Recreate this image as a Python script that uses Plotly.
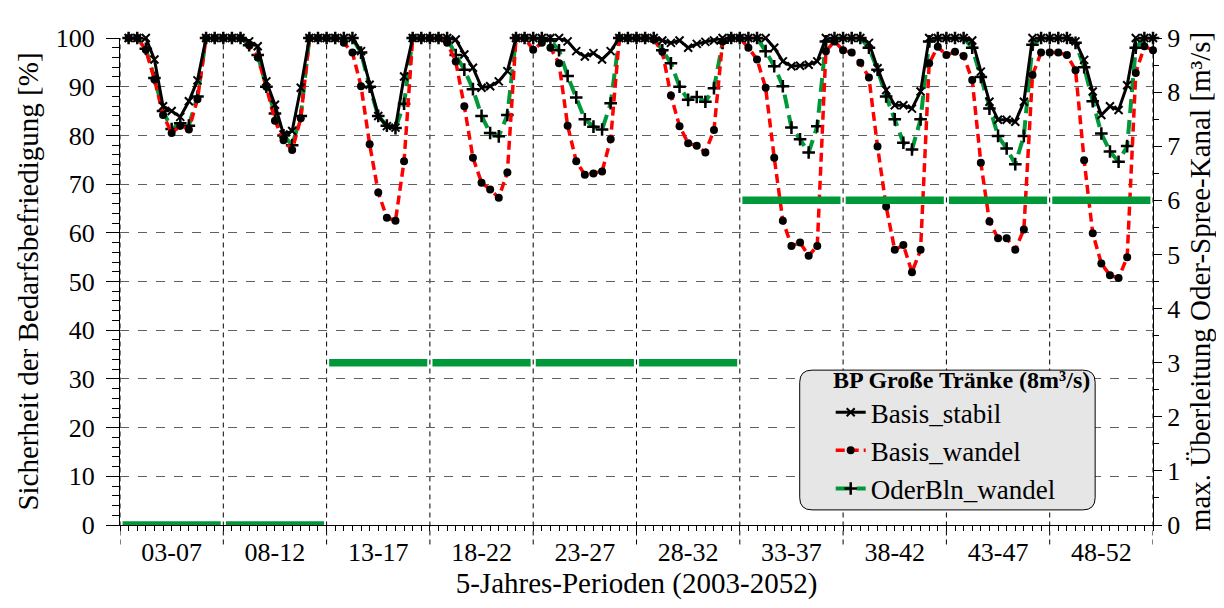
import plotly.graph_objects as go

perioden = ["03-07", "08-12", "13-17", "18-22", "23-27",
            "28-32", "33-37", "38-42", "43-47", "48-52"]
monate = 12

# Sicherheit der Bedarfsbefriedigung [%], 12 Monatswerte je Periode
basis_stabil = [
    [100, 100, 100, 95.6, 86, 85, 83.8, 87, 91.3, 100, 100, 100],
    [100, 100, 99.3, 98.3, 91.1, 86.3, 80.2, 80.9, 89.8, 100, 100, 100],
    [100, 100, 100, 97.3, 90.4, 84, 81.9, 81.6, 92.1, 100, 100, 100],
    [100, 100, 99.7, 96.6, 93.9, 89.8, 90.1, 91.1, 93.2, 100, 100, 100],
    [100, 100, 100, 99.3, 97.3, 96.2, 96.9, 95.6, 97.3, 100, 100, 100],
    [100, 100, 99.5, 99, 99.5, 98, 98.8, 99.2, 99.5, 100, 100, 100],
    [100, 100, 100, 98, 95.2, 94.2, 94.3, 94.5, 95.2, 100, 100, 100],
    [100, 100, 99, 93.8, 89.3, 86.2, 86.2, 85.5, 89, 100, 100, 100],
    [100, 100, 99.5, 93.1, 86.9, 83.2, 83.2, 82.8, 86.9, 100, 100, 100],
    [100, 100, 99.3, 95.5, 89, 84.2, 86, 85.2, 90.3, 100, 100, 100],
]
basis_wandel = [
    [100, 100, 97.6, 91.5, 84.2, 80.5, 82, 81.2, 87.4, 100, 100, 100],
    [100, 100, 98.5, 96, 90, 83, 79, 77, 83.5, 100, 100, 100],
    [100, 99, 97, 90.1, 78.2, 68.3, 63.1, 62.5, 74.7, 100, 100, 100],
    [100, 99, 95.2, 86, 75.4, 70.3, 68.9, 67.2, 72.4, 100, 100, 97.6],
    [99, 98, 94.8, 82, 74.7, 71.9, 72.2, 72.6, 79.2, 100, 100, 100],
    [100, 99.7, 97.2, 88.2, 81.9, 78.4, 77.9, 76.5, 81.1, 99.3, 100, 100],
    [98, 95.6, 89.8, 75.4, 62.5, 57.3, 58, 55.3, 57.3, 97.3, 99.3, 97.5],
    [97, 94.9, 91.9, 77.7, 65.4, 56.5, 57.5, 51.9, 56.5, 94.8, 98.2, 96.5],
    [97.2, 96.3, 91.4, 74.4, 62.3, 58.9, 58.9, 56.5, 60.7, 92.4, 97, 97],
    [97, 96.5, 93.4, 74.9, 59.9, 53.7, 51.3, 50.7, 55, 92.8, 98.3, 97.5],
]
oderbln_wandel = [
    [100, 100, 97.8, 91.8, 85, 81.3, 82.5, 82, 88, 100, 100, 100],
    [100, 100, 98.5, 96.5, 90, 84.5, 80, 78, 84, 100, 100, 100],
    [100, 100, 100, 97, 90, 84, 82, 81.5, 86.5, 100, 100, 100],
    [100, 100, 96.5, 93.5, 89.5, 84, 80.5, 79.8, 84.2, 100, 100, 100],
    [100, 99.5, 97.5, 92.2, 87.8, 83.3, 81.8, 81.2, 86.6, 100, 100, 100],
    [100, 100, 97.5, 94.8, 90, 87.3, 87.9, 86.9, 89.7, 99, 100, 100],
    [100, 100, 97.3, 94.2, 90.1, 81.6, 79.2, 76.5, 81.9, 99.3, 100, 100],
    [100, 100, 98, 93.5, 88, 83.3, 78.5, 77.1, 83.3, 99.3, 100, 100],
    [100, 100, 98, 92, 85.5, 79.9, 77.3, 74.1, 79.9, 98.6, 100, 100],
    [100, 100, 99, 94, 87, 80.4, 76.7, 74.6, 77.8, 98, 100, 100],
]
# max. Überleitung Oder-Spree-Kanal [m3/s] je Periode
ueberleitung = [0, 0, 3, 3, 3, 3, 6, 6, 6, 6]

schrift = "Liberation Serif, Times New Roman, serif"


def flach(werte):
    return [v for periode in werte for v in periode]


x_monat = [p * monate + m + 1 for p in range(len(perioden)) for m in range(monate)]

# Balken der Überleitung, je Periode ein Stück
bar_x, bar_y = [], []
for p, q in enumerate(ueberleitung):
    bar_x += [p * monate + 0.3, p * monate + 11.7, None]
    bar_y += [q, q, None]

gruen = "#00993a"
fig = go.Figure()

fig.add_trace(go.Scatter(
    x=bar_x, y=bar_y, yaxis="y2", mode="lines",
    line=dict(color=gruen, width=7.5), showlegend=False,
    cliponaxis=False, hoverinfo="skip",
))
fig.add_trace(go.Scatter(
    x=x_monat, y=flach(oderbln_wandel), name="OderBln_wandel",
    mode="lines+markers", legendrank=3, cliponaxis=False,
    line=dict(color=gruen, width=4, dash="14px,7px"),
    marker=dict(symbol="cross-thin", size=9, color="black",
                line=dict(width=2.5, color="black")),
))
fig.add_trace(go.Scatter(
    x=x_monat, y=flach(basis_wandel), name="Basis_wandel",
    mode="lines+markers", legendrank=2, cliponaxis=False,
    line=dict(color="red", width=3.5, dash="9px,5px"),
    marker=dict(symbol="circle", size=8, color="black"),
))
fig.add_trace(go.Scatter(
    x=x_monat, y=flach(basis_stabil), name="Basis_stabil",
    mode="lines+markers", legendrank=1, cliponaxis=False,
    line=dict(color="black", width=3),
    marker=dict(symbol="x-thin", size=8, color="black",
                line=dict(width=2, color="black")),
))

# gestrichelte Periodengrenzen, unten über die Achse hinaus
shapes = []
for p in range(len(perioden) + 1):
    shapes.append(dict(
        type="line", xref="x", yref="paper",
        x0=p * monate, x1=p * monate, y0=-0.04, y1=1,
        line=dict(color="black", width=1, dash="5px,4px"), layer="below",
    ))

# Legendenhintergrund mit runden Ecken
x0, x1, y0, y1 = 0.658, 0.944, 0.031, 0.318
rx, ry = 0.012, 0.025
pfad = (f"M {x0+rx},{y0} L {x1-rx},{y0} Q {x1},{y0} {x1},{y0+ry} "
        f"L {x1},{y1-ry} Q {x1},{y1} {x1-rx},{y1} L {x0+rx},{y1} "
        f"Q {x0},{y1} {x0},{y1-ry} L {x0},{y0+ry} Q {x0},{y0} {x0+rx},{y0} Z")
shapes.append(dict(type="path", xref="paper", yref="paper", path=pfad,
                   fillcolor="#e6e6e6", line=dict(color="black", width=1),
                   layer="above"))

fig.update_layout(
    width=1224, height=608,
    # die Seite hat 8px Rand, daher links/oben 8px weniger
    margin=dict(l=112, r=79, t=30, b=91),
    plot_bgcolor="white", paper_bgcolor="white",
    font=dict(family=schrift, size=24, color="black"),
    shapes=shapes,
    xaxis=dict(
        range=[0, len(perioden) * monate],
        tickmode="array",
        tickvals=[p * monate + 6 for p in range(len(perioden))],
        ticktext=perioden, ticks="", ticklabelstandoff=4,
        tickfont=dict(family=schrift, size=26),
        showgrid=False, zeroline=False,
        showline=True, linecolor="black", linewidth=1,
        minor=dict(tickmode="linear", tick0=0, dtick=1, ticks="outside",
                   ticklen=5, tickcolor="black", showgrid=False),
        title=dict(text="5-Jahres-Perioden (2003-2052)", standoff=2,
                   font=dict(family=schrift, size=29)),
    ),
    yaxis=dict(
        range=[0, 100], dtick=10, ticks="outside", ticklen=13,
        tickcolor="black", showline=True, linecolor="black", linewidth=1,
        tickfont=dict(family=schrift, size=26), ticklabelstandoff=6,
        showgrid=True, gridcolor="#606060", griddash="dash", gridwidth=1,
        zeroline=False,
        minor=dict(dtick=2, ticks="outside", ticklen=7, tickcolor="black",
                   showgrid=False),
        title=dict(text="Sicherheit der Bedarfsbefriedigung [%]", standoff=8,
                   font=dict(family=schrift, size=29)),
    ),
    yaxis2=dict(
        overlaying="y", side="right", range=[0, 9], dtick=1,
        ticks="outside", ticklen=8, tickcolor="black",
        tickfont=dict(family=schrift, size=26),
        showline=True, linecolor="black", linewidth=1,
        showgrid=False, zeroline=False,
        minor=dict(dtick=0.5, ticks="outside", ticklen=5, tickcolor="black"),
        title=dict(text="max. Überleitung Oder-Spree-Kanal [m³/s]", standoff=10,
                   font=dict(family=schrift, size=29)),
    ),
    legend=dict(
        title=dict(text="<b>BP Große Tränke (8m³/s)</b>", side="top center",
                   font=dict(family=schrift, size=24)),
        x=0.688, y=0.345, xanchor="left", yanchor="top",
        bgcolor="rgba(0,0,0,0)", borderwidth=0,
        font=dict(family=schrift, size=27), tracegroupgap=0,
    ),
)

fig.write_html("out.html")
